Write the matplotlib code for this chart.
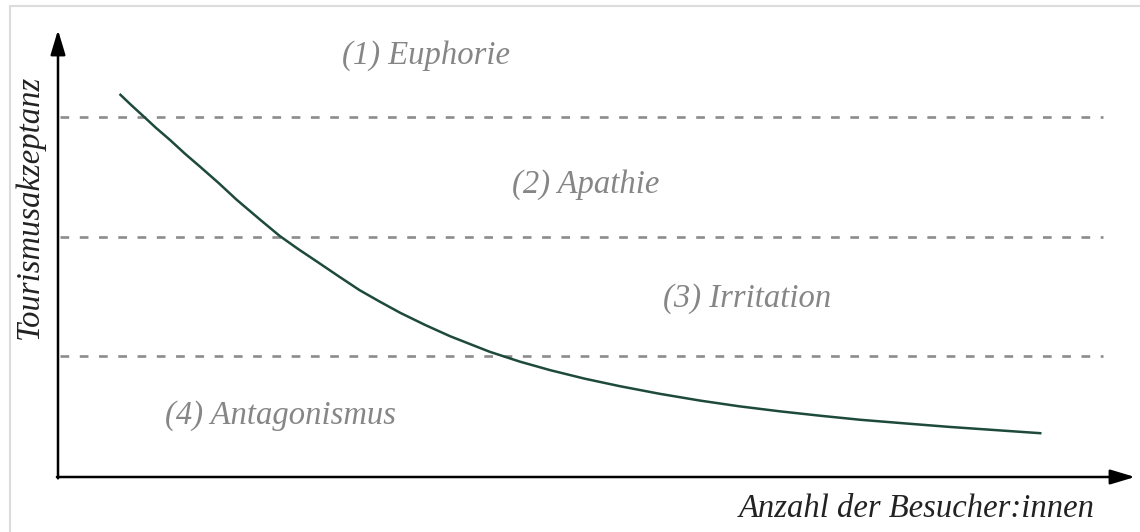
import matplotlib.pyplot as plt
from matplotlib import font_manager as fm
from matplotlib.patches import Rectangle

# Besucherzahl (x) und Tourismusakzeptanz (y), beliebige Einheiten 0..100
besucher = [5.8, 6.8, 7.8, 9.1, 10.4, 11.8, 13.2, 14.9, 16.6, 18.8, 20.6,
            22.3, 24.1, 26.0, 28.0, 29.9, 31.8, 34.1, 36.4, 38.3, 40.1, 42.9,
            45.7, 48.9, 52.2, 55.9, 59.6, 63.3, 67.0, 70.8, 74.5, 78.6, 82.8,
            87.0, 91.2]
akzeptanz = [85.5, 83.2, 81.0, 78.1, 75.4, 72.3, 69.4, 65.8, 62.0, 57.5, 53.9,
             51.0, 48.1, 45.0, 41.8, 39.2, 36.7, 34.0, 31.5, 29.7, 28.0, 25.8,
             23.9, 22.0, 20.3, 18.6, 17.1, 15.8, 14.7, 13.7, 12.8, 12.0, 11.2,
             10.5, 9.8]

# Grenzen zwischen den Phasen
grenzen = [80.5, 53.7, 27.1]
grenze_x = [0.2, 97.0]

phasen = ["(1) Euphorie", "(2) Apathie", "(3) Irritation", "(4) Antagonismus"]
phasen_x = [26.4, 42.2, 56.2, 9.9]
phasen_y = [92.4, 63.5, 38.0, 11.8]

x_label = "Anzahl der Besucher:innen"
y_label = "Tourismusakzeptanz"

font_path = fm.findfont(fm.FontProperties(family="Liberation Serif",
                                          style="italic"))
fp = fm.FontProperties(fname=font_path, size=23.5)

fig = plt.figure(figsize=(11.4, 5.32), dpi=100)
fig.add_artist(Rectangle((10 / 1140, -0.1), 1.2, 1.1 - 6 / 532,
                         transform=fig.transFigure, fill=False,
                         edgecolor="#dcdcdc", lw=1.5))

ax = fig.add_axes([58 / 1140, 1 - 477 / 532, 1077 / 1140, 447 / 532])
ax.set_xlim(0, 100)
ax.set_ylim(0, 100)
ax.axis("off")

# Achsen mit Pfeilen
arrow = dict(arrowstyle="-|>,head_length=1.5,head_width=0.45", lw=1.8,
             color="black", mutation_scale=10, shrinkA=0, shrinkB=0)
ax.annotate("", xy=(0, 100), xytext=(0, -0.3), arrowprops=arrow,
            annotation_clip=False)
ax.annotate("", xy=(100, 0), xytext=(-0.1, 0), arrowprops=arrow,
            annotation_clip=False)

for g in grenzen:
    ax.plot(grenze_x, [g, g], color="#8c8c8c", lw=1.9,
            ls=(0, (3.3, 4.0)), clip_on=False)

ax.plot(besucher, akzeptanz, color="#1d4a3a", lw=1.8, clip_on=False,
        solid_joinstyle="round")

for name, px, py in zip(phasen, phasen_x, phasen_y):
    ax.text(px, py, name, fontproperties=fp, color="#868686",
            ha="left", va="baseline")

ax.text(96.3, -8.9, x_label, fontproperties=fp, color="#222222",
        ha="right", va="baseline", clip_on=False)
ax.text(-2.6, 60.4, y_label, fontproperties=fp, color="#222222",
        ha="center", va="center", rotation=90, clip_on=False)

fig.savefig("out.png", dpi=100)
